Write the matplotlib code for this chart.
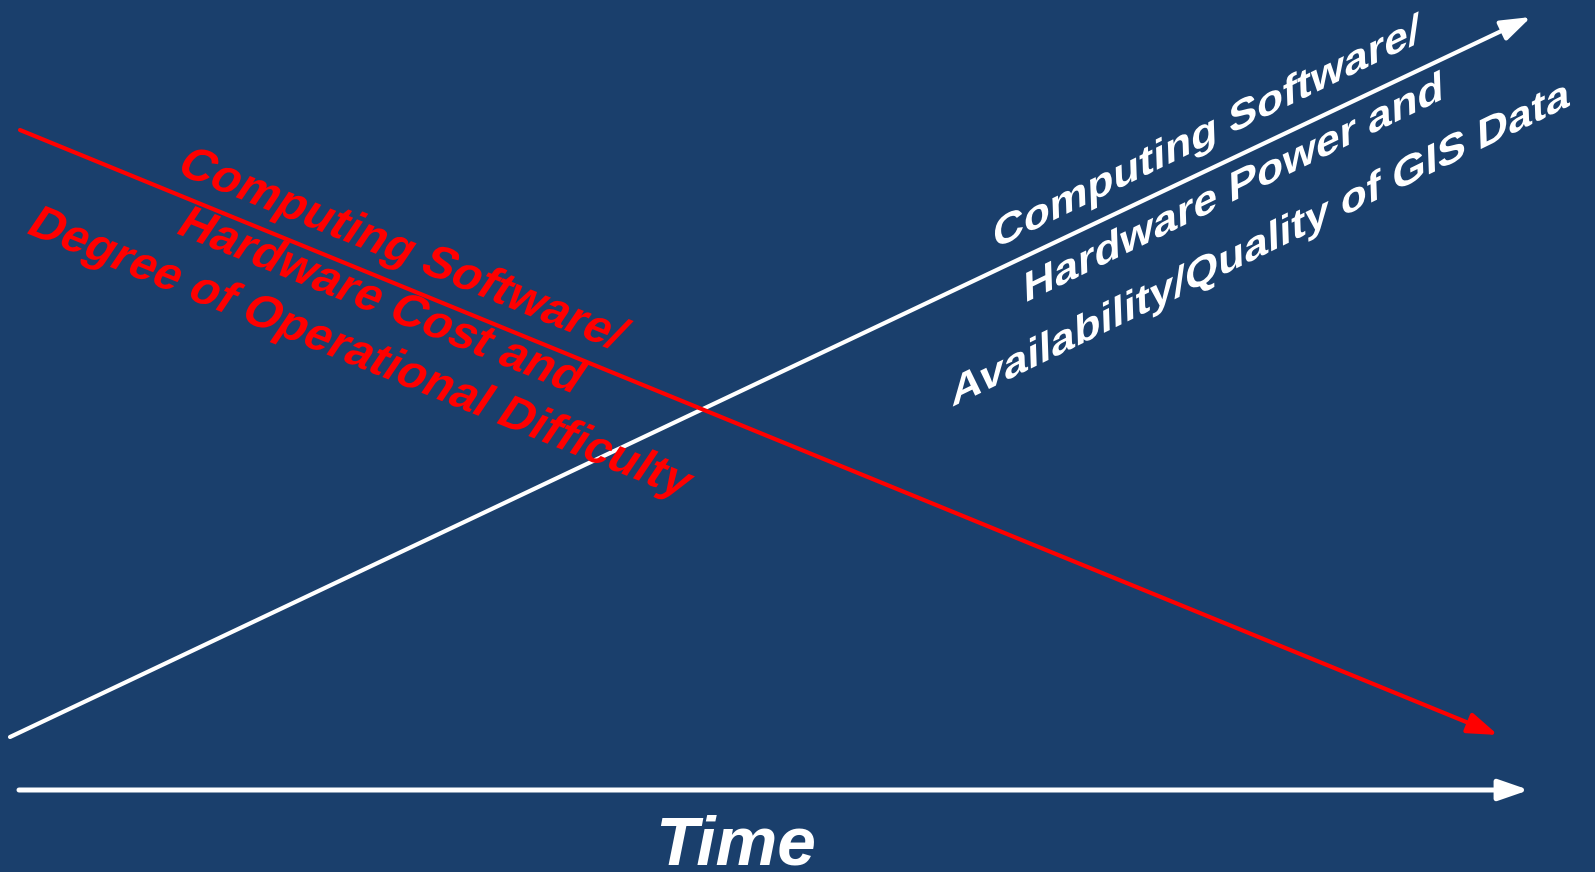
import matplotlib.pyplot as plt
from matplotlib import patheffects
from matplotlib.transforms import Affine2D

plt.rcParams['font.family'] = ['Liberation Sans', 'DejaVu Sans']

# line endpoints in picture pixels (x right, y down)
rise_x = [10, 1531]
rise_y = [737, 17]
fall_x = [20, 1498]
fall_y = [130, 735]
time_x = [19, 1529]
time_y = [790, 790]

rise_label = "Computing Software/\nHardware Power and\nAvailability/Quality of GIS Data"
fall_label = "Computing Software/\nHardware Cost and\nDegree of Operational Difficulty"
axis_label = "Time"

bg = "#1a3f6c"


class Slant(patheffects.AbstractPathEffect):
    # shear / stretch the glyphs of each line in their own frame,
    # the text itself stays an ordinary Text artist
    def __init__(self, deg, sx=1.0, sy=1.0):
        super().__init__()
        self.deg = deg
        self.sx = sx
        self.sy = sy

    def draw_path(self, renderer, gc, tpath, affine, rgbFace=None):
        ext = tpath.get_extents()
        cx = (ext.x0 + ext.x1) / 2
        pre = (Affine2D().translate(-cx, 0).scale(self.sx, self.sy)
               .translate(cx, 0).skew_deg(self.deg, 0))
        renderer.draw_path(gc, tpath, pre + affine, rgbFace)


fig = plt.figure(figsize=(15.95, 8.72), dpi=100, facecolor=bg)
ax = fig.add_axes([0, 0, 1, 1])
ax.set_facecolor(bg)
ax.set_xlim(0, 1595)
ax.set_ylim(872, 0)
ax.axis("off")

head = "-|>,head_length=1.3,head_width=0.45"
ax.annotate("", xy=(rise_x[1], rise_y[1]), xytext=(rise_x[0], rise_y[0]),
            arrowprops=dict(arrowstyle=head, color="white", lw=3, mutation_scale=14,
                            shrinkA=0, shrinkB=0))
ax.annotate("", xy=(fall_x[1], fall_y[1]), xytext=(fall_x[0], fall_y[0]),
            arrowprops=dict(arrowstyle=head, color="red", lw=3, mutation_scale=14,
                            shrinkA=0, shrinkB=0))
ax.annotate("", xy=(time_x[1], time_y[1]), xytext=(time_x[0], time_y[0]),
            arrowprops=dict(arrowstyle=head, color="white", lw=3.6, mutation_scale=14,
                            shrinkA=0, shrinkB=0))

# white label: letters stay nearly upright while the lines climb
ax.text(1229, 191, rise_label, color="white", fontsize=30.6, fontweight="bold",
        rotation=26, rotation_mode="anchor", ha="center", va="center",
        multialignment="center", linespacing=1.7,
        path_effects=[Slant(24, 1.11, 0.9)])
ax.text(378, 302, fall_label, color="red", fontsize=34, fontweight="bold",
        rotation=-22, rotation_mode="anchor", ha="center", va="center",
        multialignment="center", linespacing=1.35, path_effects=[Slant(12)])
ax.text(736, 864, axis_label, color="white", fontsize=50, fontweight="bold",
        fontstyle="italic", ha="center", va="baseline")

fig.savefig("out.png", dpi=100, facecolor=bg)
